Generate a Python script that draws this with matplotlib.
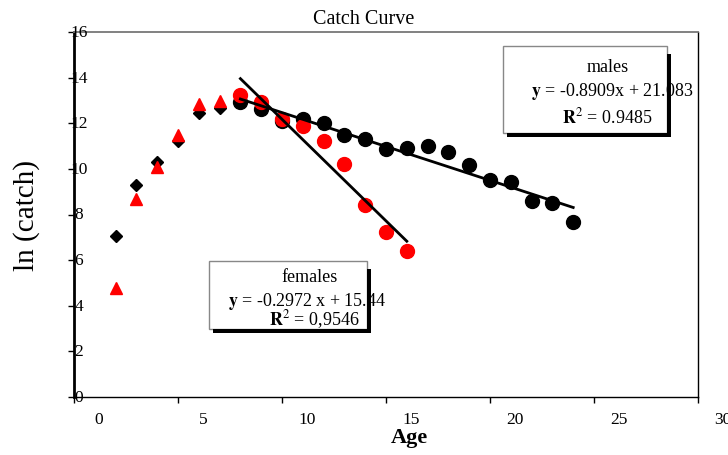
import matplotlib.pyplot as plt
from matplotlib.patches import Rectangle
from matplotlib.transforms import offset_copy

plt.rcParams['font.family'] = 'Liberation Serif'
plt.rcParams['mathtext.fontset'] = 'stix'

# ln(catch) by age, males in black and females in red
age_young = [2, 3, 4, 5, 6, 7]
male_young = [7.05, 9.31, 10.32, 11.21, 12.46, 12.66]
female_young = [4.77, 8.68, 10.07, 11.50, 12.84, 12.98]

age_male = [8, 9, 10, 11, 12, 13, 14, 15, 16, 17, 18, 19, 20, 21, 22, 23, 24]
male_old = [12.94, 12.62, 12.12, 12.19, 12.02, 11.49, 11.32, 10.88, 10.91,
            11.00, 10.73, 10.18, 9.53, 9.44, 8.57, 8.51, 7.69]
age_female = [8, 9, 10, 11, 12, 13, 14, 15, 16]
female_old = [13.23, 12.92, 12.19, 11.87, 11.24, 10.22, 8.43, 7.25, 6.42]

# fitted lines (slope, intercept, x range)
fit_steep = (-0.8909, 21.083, 8, 16)
fit_flat = (-0.2972, 15.44, 8, 24)

xticks = [0, 5, 10, 15, 20, 25, 30]
yticks = [0, 2, 4, 6, 8, 10, 12, 14, 16]

fig = plt.figure(figsize=(7.28, 4.56), dpi=100)
ax = fig.add_axes([74 / 728, 58 / 456, 624 / 728, 365 / 456])

ax.plot(age_young, male_young, 'D', color='black', markersize=6.5, zorder=3)
ax.plot(age_young, female_young, '^', color='red', markersize=9, zorder=3)
ax.plot(age_male, male_old, 'o', color='black', markersize=10, zorder=3)
ax.plot(age_female, female_old, 'o', color='red', markersize=10, zorder=3)

for m, b, x0, x1 in (fit_steep, fit_flat):
    ax.plot([x0, x1], [m * x0 + b, m * x1 + b], color='black', lw=2, zorder=4)

ax.set_xlim(0, 30)
ax.set_ylim(0, 16)
ax.set_xticks(xticks)
ax.set_yticks(yticks)
ax.tick_params(direction='out', length=4, width=1, labelbottom=False, labelleft=False)
ax.spines['left'].set_linewidth(2)
ax.spines['bottom'].set_linewidth(1)
ax.spines['right'].set_linewidth(1)
ax.spines['top'].set_color('#777777')
ax.spines['top'].set_linewidth(1.3)

# tick labels sit a little off their ticks
xt = offset_copy(ax.get_xaxis_transform(), fig=fig, x=25, y=-22, units='dots')
for v in xticks:
    ax.text(v, 0, str(v), transform=xt, ha='center', va='center', fontsize=12.5)
yt = offset_copy(ax.get_yaxis_transform(), fig=fig, x=5, y=0, units='dots')
for v in yticks:
    ax.text(0, v, str(v), transform=yt, ha='center', va='center', fontsize=12.5)

fig.text(364 / 728, 1 - 19 / 456, 'Catch Curve', ha='center', va='center', fontsize=14.5)
fig.text(27 / 728, 1 - 216 / 456, 'ln (catch)', ha='center', va='center',
         rotation=90, fontsize=21)
fig.text(409 / 728, 1 - 438 / 456, 'Age', ha='center', va='center',
         fontsize=16, fontweight='bold')


def px(x, y):
    return (x - 74) / 624, (398 - y) / 365


def fit_box(left, top, right, bottom, lines):
    x0, y0 = px(left, bottom)
    x1, y1 = px(right, top)
    ax.add_patch(Rectangle((x0, y0), x1 - x0, y1 - y0, transform=ax.transAxes,
                           facecolor='white', edgecolor='#888888', lw=1, zorder=5))
    for (cx, cy, s) in lines:
        tx, ty = px(cx, cy)
        ax.text(tx, ty, s, transform=ax.transAxes, ha='center', va='center',
                fontsize=13, zorder=6)
    # drop shadow on the right and bottom edges
    sx, sy = 4 / 624, 4 / 365
    ax.add_patch(Rectangle((x1, y0 - sy), sx, y1 - y0 - sy, transform=ax.transAxes,
                           facecolor='black', edgecolor='none', zorder=7, clip_on=False))
    ax.add_patch(Rectangle((x0 + sx, y0 - sy), x1 - x0, sy, transform=ax.transAxes,
                           facecolor='black', edgecolor='none', zorder=7, clip_on=False))


fit_box(503, 47, 667, 134, [
    (608, 68, 'males'),
    (612, 92, r'$\mathbf{y}$ = -0.8909x + 21.083'),
    (607, 117, r'$\mathbf{R}^{2}$ = 0.9485'),
])
fit_box(209, 262, 367, 330, [
    (310, 278, 'females'),
    (307, 301, r'$\mathbf{y}$ = -0.2972 x + 15.44'),
    (314, 320, r'$\mathbf{R}^{2}$ = 0,9546'),
])

fig.savefig('out.png', dpi=100)
